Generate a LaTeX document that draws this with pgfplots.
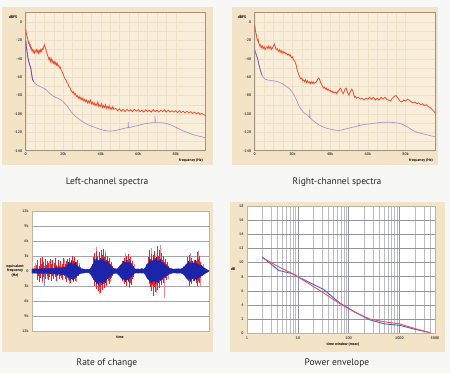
\documentclass[border=0pt]{standalone}
\usepackage{fontspec}
\setmainfont{PT Sans}
\usepackage{pgfplots}
\pgfplotsset{compat=1.18}
\definecolor{pagebg}{RGB}{247,247,245}
\definecolor{beige}{RGB}{243,228,200}
\definecolor{plotbg}{RGB}{248,238,218}
\definecolor{faintgrid}{RGB}{238,224,198}
\definecolor{framec}{RGB}{160,148,126}
\definecolor{specred}{RGB}{238,78,48}
\definecolor{speclav}{RGB}{172,148,202}
\definecolor{specpurp}{RGB}{105,75,190}
\definecolor{wavered}{RGB}{240,30,40}
\definecolor{wavepink}{RGB}{245,130,150}
\definecolor{waveblue}{RGB}{28,36,170}
\definecolor{lightblue}{RGB}{120,130,225}
\definecolor{gridc}{RGB}{165,165,175}
\definecolor{envred}{RGB}{232,80,95}
\definecolor{envblue}{RGB}{70,95,225}
\pgfplotsset{
  tinytick/.style={
    tick label style={font=\fontsize{3.8}{4}\selectfont\bfseries, text=black!75},
    /pgf/number format/assume math mode=true,
    major tick length=0pt, minor tick length=0pt,
    xtick pos=bottom, ytick pos=left,
  },
  specaxis/.style={
    anchor=south west, scale only axis,
    xmin=0, xmax=96, ymin=-140, ymax=10,
    xtick={0,20,40,60,80}, xticklabels={0,20k,40k,60k,80k},
    ytick={-140,-120,...,0},
    minor x tick num=3, minor y tick num=1,
    grid=both, grid style={faintgrid, line width=0.3pt},
    axis background/.style={fill=plotbg},
    axis line style={framec, line width=1.2pt},
    tinytick,
    xticklabel style={yshift=1pt},
  },
}
\newcommand{\lbl}{\fontsize{3.8}{4.2}\selectfont\bfseries}
\begin{document}
\begin{tikzpicture}[x=1pt,y=1pt]
\useasboundingbox (0,0) rectangle (450,373);
\fill[pagebg] (0,0) rectangle (450,373);
\fill[beige] (2,208) rectangle (213,366);
\fill[beige] (232,208) rectangle (438,366);
\fill[beige] (2,21) rectangle (213,171);
\fill[beige] (230,21) rectangle (445,171);

% ---------- Panel 1: Left-channel spectra ----------
\begin{axis}[specaxis, at={(25.7pt,222.3pt)}, width=180pt, height=138pt]
\addplot[speclav, line width=0.7pt] coordinates {
(0,-20) (0.3,-26) (0.6,-31) (1.0,-36) (1.4,-41) (2.0,-46) (2.7,-50) (3.2,-57) (3.6,-62) (4.2,-65)
(5,-67) (6,-68.5) (7,-69.5) (8,-70.5) (9,-71.5) (10,-72.5) (11,-74) (12,-76) (13,-78) (14,-79.5)
(15,-81) (16,-82) (17,-83) (18,-84) (19,-85) (20,-87) (21,-89) (22,-91) (23,-94) (24,-97)
(25,-99.5) (26,-101.5) (27,-103.5) (28,-105) (30,-108) (32,-110.5) (34,-112.5) (36,-114) (38,-115.5)
(40,-117) (42,-118) (44,-118.5) (46,-118.5) (48,-118) (50,-117) (52,-116) (54,-115) (54.6,-115)
(54.7,-109) (54.8,-115) (56,-114.5) (58,-113.5) (60,-112.5) (62,-111.5) (64,-110.5) (66,-110)
(68,-109.5) (68.9,-109.5) (69,-102) (69.1,-109.5) (70,-109.5) (72,-109.5) (74,-110) (76,-111)
(78,-112.5) (80,-114.5) (82,-116.5) (84,-118.5) (86,-120) (88,-121.5) (90,-123) (92,-124) (94,-125) (96,-126)
};
\addplot[specpurp, line width=0.8pt] coordinates {
(0,-20) (0.3,-26) (0.6,-31) (1.0,-36) (1.4,-41) (2.0,-46) (2.7,-50) (3.2,-57) (3.6,-62) (4.2,-65)
};
\addplot[specred, line width=0.8pt] coordinates {
(0,-8) (0.3,-12) (0.6,-15) (0.9,-17) (1.2,-20) (1.5,-23) (1.8,-22) (2.1,-26) (2.4,-25) (2.7,-29)
(3.0,-28) (3.3,-31) (3.6,-30) (4.0,-33) (4.4,-31) (4.8,-34) (5.2,-32) (5.6,-30) (6.0,-33) (6.4,-31)
(6.8,-34) (7.2,-31) (7.6,-33) (8.0,-30) (8.4,-32) (8.8,-29) (9.2,-30) (9.6,-27) (10.0,-25) (10.4,-28)
(10.8,-30) (11.2,-33) (11.6,-36) (12.0,-38) (12.4,-41) (12.8,-39) (13.2,-43) (13.6,-40) (14.0,-44)
(14.4,-42) (14.8,-45) (15.2,-43) (15.6,-46) (16.0,-44) (16.4,-47) (16.8,-45) (17.2,-48) (17.6,-47)
(18.0,-50) (18.4,-49) (18.8,-52) (19.2,-53) (19.6,-55) (20.0,-57) (20.5,-60) (21.0,-62) (21.5,-63)
(22.0,-66) (22.5,-67) (23.0,-70) (23.5,-71) (24.0,-74) (24.5,-75) (25.0,-77) (25.5,-76) (26.0,-79)
(26.5,-78) (27.0,-81) (27.5,-80) (28.0,-83) (28.5,-81) (29.0,-84) (29.5,-82) (30.0,-85) (30.5,-83)
(31.0,-86) (31.5,-84) (32.0,-87) (32.5,-85) (33.0,-88) (33.5,-86) (34.0,-88) (34.5,-85) (35.0,-89)
(35.5,-87) (36.0,-90) (36.5,-88) (37.0,-91) (37.5,-89) (38.0,-91) (38.5,-87) (39.0,-92) (39.5,-90)
(40.0,-92) (40.5,-89) (41.0,-93) (41.5,-91) (42.0,-93) (42.5,-90) (43.0,-94) (43.5,-92) (44.0,-94)
(44.5,-91) (45.0,-95) (45.5,-93) (46.0,-95) (46.5,-92) (47.0,-95) (48,-94) (49,-96.5) (50,-94.5)
(51,-97) (52,-95) (53,-97.5) (54,-95) (55,-97) (56,-95.5) (57,-97.5) (58,-95) (59,-97) (60,-95.5)
(61,-97.5) (62,-96) (63,-98) (64,-95.5) (65,-97.5) (66,-96) (67,-98) (68,-95.5) (69,-97.5) (70,-96)
(71,-98) (72,-96) (73,-97.5) (74,-95.5) (75,-98) (76,-96) (77,-98) (78,-96.5) (79,-98) (80,-96.5)
(81,-98.5) (82,-96.5) (83,-98.5) (84,-97) (85,-99) (86,-97) (87,-99) (88,-97.5) (89,-99.5) (90,-98)
(91,-100) (92,-98.5) (93,-100.5) (94,-99.5) (95,-101) (96,-102)
};
\end{axis}
\node[font=\lbl] at (13,356) {dBFS};
\node[font=\lbl, fill=plotbg, inner sep=0.6pt] at (191,212) {frequency (Hz)};

% ---------- Panel 2: Right-channel spectra ----------
\begin{axis}[specaxis, at={(254.7pt,222.3pt)}, width=181pt, height=138pt]
\addplot[speclav, line width=0.7pt] coordinates {
(0,-30) (0.4,-33) (0.9,-36) (1.4,-39) (1.8,-42) (2.3,-47) (2.7,-50) (3.2,-54) (3.9,-58) (4.5,-60)
(5.3,-62) (6.5,-63) (8,-63.5) (9,-64) (10,-64) (11,-64.5) (12,-65) (13,-65.5) (14,-66.5) (15,-67.5)
(16,-69) (17,-70.5) (18,-72) (19,-74) (20,-76.5) (21,-80) (22,-84) (23,-89) (24,-93) (25,-96)
(26,-98.5) (27,-100) (28,-101.5) (29.1,-104) (29.2,-95) (29.3,-104) (30,-105.5) (32,-109) (34,-112)
(36,-114) (38,-115.5) (40,-116.5) (42,-117.5) (44,-118) (46,-117.5) (48,-116.5) (50,-115.5)
(52,-114.5) (54,-113.5) (55.2,-113) (55.3,-110) (55.4,-113) (56,-112.5) (58,-111.5) (60,-111)
(62,-110.5) (64,-110) (66,-109.5) (68,-109) (70,-109) (72,-109) (74,-109.5) (76,-110) (78,-111)
(80,-113) (82,-115.5) (84,-118) (86,-120) (88,-121) (90,-122) (92,-123) (94,-124) (96,-125)
};
\addplot[specpurp!70!speclav, line width=0.7pt] coordinates {
(0,-30) (0.4,-33) (0.9,-36) (1.4,-39) (1.8,-42) (2.3,-47) (2.7,-50) (3.2,-54) (3.9,-58)
};
\addplot[specred, line width=0.8pt] coordinates {
(0,-3) (0.3,-8) (0.6,-12) (0.9,-14) (1.2,-18) (1.5,-20) (1.8,-19) (2.1,-23) (2.4,-24) (2.7,-26)
(3.0,-25) (3.5,-28) (4.0,-26) (4.5,-29) (5.0,-27) (5.5,-30) (6.0,-28) (6.5,-27) (7.0,-29) (7.5,-26)
(8.0,-29) (8.5,-27) (9.0,-30) (9.5,-28) (10.0,-26) (10.5,-24) (11.0,-28) (11.5,-30) (12.0,-29)
(12.5,-32) (13.0,-30) (13.5,-33) (14.0,-31) (14.5,-34) (15.0,-32) (15.5,-34) (16.0,-33) (16.5,-35)
(17.0,-34) (17.5,-36) (18.0,-35) (18.5,-37) (19.0,-36) (19.5,-39) (20.0,-38) (20.5,-41) (21.0,-42)
(21.5,-44) (22.0,-47) (22.5,-52) (23.0,-55) (23.5,-58) (24.0,-60) (24.5,-62) (25.0,-61) (25.5,-64)
(26.0,-63) (26.5,-65) (27.0,-63) (27.5,-66) (28.0,-64) (28.5,-66) (29.0,-65) (29.5,-67) (30.0,-65)
(30.5,-67) (31.0,-65) (31.5,-67) (32.0,-66) (32.5,-66) (33.0,-64) (33.5,-62) (34.0,-61) (34.5,-63)
(35.0,-66) (35.5,-68) (36.0,-70) (36.5,-72) (37.0,-71) (37.5,-73) (38.0,-72) (38.5,-74) (39.0,-73)
(39.5,-75) (40.0,-74) (40.5,-76) (41.0,-75) (41.5,-77) (42.0,-76) (42.5,-77) (43.0,-76) (43.5,-78)
(44.0,-76) (44.5,-75) (45.0,-73) (45.5,-72) (46.0,-74) (46.5,-77) (47.0,-78) (47.5,-75) (48.0,-73)
(48.5,-72) (49.0,-75) (49.5,-78) (50.0,-80) (50.5,-77) (51.0,-75) (51.5,-73) (52.0,-75) (52.5,-79)
(53.0,-82) (53.5,-81) (54.0,-83) (55,-82) (56,-84) (57,-83) (58,-85) (59,-83) (60,-84) (61,-82)
(62,-84) (63,-82) (64,-85) (65,-83) (66,-85) (67,-82) (68,-84) (69,-82) (70,-84) (71,-85) (72,-86)
(73,-83) (74,-81) (75,-80) (76,-83) (77,-86) (78,-87) (79,-85) (80,-86) (81,-84) (82,-85) (83,-87)
(84,-88) (85,-87) (86,-89) (87,-88) (88,-90) (89,-89) (90,-91) (91,-90) (92,-92) (93,-93) (94,-95)
(95,-97) (96,-100)
};
\end{axis}
\node[font=\lbl] at (242,356) {dBFS};
\node[font=\lbl, fill=plotbg, inner sep=0.6pt] at (421,212) {frequency (Hz)};

% ---------- Panel 3: Rate of change ----------
\begin{axis}[anchor=south west, scale only axis, at={(32pt,42pt)}, width=177pt, height=120pt,
  xmin=0, xmax=100, ymin=-12, ymax=12, xtick=\empty,
  ytick={-12,-9,...,12}, yticklabels={12k,9k,6k,3k,0,3k,6k,9k,12k},
  ymajorgrids, grid style={gridc, line width=0.7pt},
  axis line style={framec!70, line width=0.8pt},
  axis background/.style={fill=white},
  tinytick, clip=true]
% pink (light) spikes
\addplot[wavepink, ycomb, line width=0.7pt] coordinates {
(2.0,1.6) (5.9,-2.4) (9.9,2.1) (13.6,-2.0) (18.3,2.4) (21.0,-2.5) (36.2,4.8) (38.0,-4.6) (41.6,4.0)
(53.0,3.7) (55.0,-3.4) (67.2,4.6) (70.0,-4.4) (72.3,5.3) (74.6,-5.3) (89.5,3.6) (94.0,4.0) (95.2,-3.1)
(1.2,1.0) (8.4,-1.6) (15.9,1.8) (24.8,-2.1) (26.9,1.6) (44.0,-2.2) (57.9,1.5) (76.9,-1.6) (96.7,1.4)
};
\addplot[wavered, ycomb, line width=0.8pt] coordinates {
(2.5,1.2) (3.2,2.2) (4.0,1.0) (4.6,2.6) (5.3,1.5) (6.0,2.8) (6.7,1.8) (7.4,2.4) (8.1,1.2) (8.8,2.0)
(9.5,1.6) (10.3,2.5) (11.0,1.4) (11.8,2.2) (12.5,1.7) (13.3,2.6) (14.0,1.3) (14.8,2.3) (15.5,1.1)
(16.3,2.0) (17.0,1.5) (17.8,2.6) (18.6,1.4) (19.3,2.1) (20.0,2.4) (20.7,1.6) (21.4,2.7) (22.1,2.2)
(22.8,3.0) (23.5,2.0) (24.2,2.8) (25.0,1.8) (25.7,2.3) (26.5,1.2) (27.3,0.8)
(34.2,1.5) (34.8,2.8) (35.4,3.6) (36.0,2.5) (36.6,4.0) (37.2,3.0) (37.8,3.8) (38.4,2.4) (39.0,4.3)
(39.6,3.2) (40.2,4.5) (40.8,2.8) (41.4,3.5) (42.0,2.2) (42.6,3.0) (43.2,2.0) (43.8,2.6) (44.4,1.5)
(45.0,1.8) (45.6,1.0)
(50.3,1.2) (50.9,2.0) (51.5,1.5) (52.1,2.6) (52.7,1.8) (53.3,3.0) (53.9,2.2) (54.5,3.5) (55.1,2.4)
(55.7,2.9) (56.3,1.6) (56.9,2.0) (57.5,1.0)
(65.2,1.5) (65.8,2.8) (66.4,4.2) (67.0,2.4) (67.6,3.5) (68.2,2.0) (68.8,3.2) (69.4,4.0) (70.0,2.6)
(70.6,5.0) (71.2,3.0) (71.8,4.2) (72.4,2.5) (73.0,3.6) (73.6,2.2) (74.2,3.0) (74.8,1.8) (75.4,2.4)
(76.0,1.5) (76.6,1.8) (77.2,1.0)
(87.3,1.5) (87.9,2.8) (88.5,1.8) (89.1,3.2) (89.7,2.0) (90.3,2.6) (90.9,1.5) (91.5,2.2) (92.1,1.2)
(92.7,2.0) (93.3,3.8) (93.9,2.4) (94.5,3.0) (95.1,1.8) (95.7,1.2) (96.3,0.8)
};
\addplot[wavered, ycomb, line width=0.8pt] coordinates {
(2.8,-1.8) (3.6,-1.0) (4.3,-2.2) (5.0,-1.3) (5.7,-2.0) (6.4,-1.1) (7.1,-2.1) (7.8,-1.5) (8.5,-1.0)
(9.2,-1.8) (10.0,-1.2) (10.7,-2.0) (11.4,-1.0) (12.2,-1.6) (13.0,-1.1) (13.7,-1.9) (14.4,-1.0)
(15.2,-1.5) (16.0,-0.9) (16.7,-1.4) (17.4,-1.8) (18.2,-1.0) (19.0,-1.6) (19.7,-2.2) (20.4,-1.4)
(21.1,-2.0) (21.8,-2.3) (22.5,-1.6) (23.2,-2.2) (23.9,-1.5) (24.6,-2.0) (25.3,-1.3) (26.1,-1.0)
(34.5,-1.8) (35.1,-3.0) (35.7,-2.2) (36.3,-3.5) (36.9,-2.6) (37.5,-4.0) (38.1,-3.2) (38.7,-4.3)
(39.3,-2.8) (39.9,-3.8) (40.5,-2.5) (41.1,-3.4) (41.7,-2.2) (42.3,-3.0) (42.9,-2.0) (43.5,-2.5)
(44.1,-1.6) (44.7,-1.3) (45.3,-1.0)
(50.6,-1.2) (51.2,-2.0) (51.8,-1.4) (52.4,-2.5) (53.0,-1.8) (53.6,-3.0) (54.2,-2.2) (54.8,-3.2)
(55.4,-2.4) (56.0,-2.8) (56.6,-1.5) (57.2,-1.2)
(65.5,-1.5) (66.1,-2.5) (66.7,-3.2) (67.3,-4.0) (67.9,-2.8) (68.5,-5.0) (69.1,-3.2) (69.7,-4.2)
(70.3,-2.6) (70.9,-3.8) (71.5,-2.4) (72.1,-3.4) (72.7,-2.0) (73.3,-2.8) (73.9,-1.8) (74.5,-2.4)
(75.1,-1.4) (75.7,-1.8) (76.3,-1.0)
(87.6,-1.2) (88.2,-2.0) (88.8,-3.0) (89.4,-2.2) (90.0,-2.6) (90.6,-1.5) (91.2,-2.0) (91.8,-1.2)
(92.4,-1.6) (93.0,-2.4) (93.6,-3.0) (94.2,-2.0) (94.8,-2.4) (95.4,-1.3) (96.0,-1.0)
};
% light blue spikes
\addplot[lightblue, ycomb, line width=0.8pt] coordinates {
(6.8,-2.9) (6.8,1.0) (20.3,-1.7) (20.3,1.2) (64.5,1.5) (64.5,-1.2) (85.8,1.0)
};
% blue spikes
\addplot[waveblue, ycomb, line width=0.7pt] coordinates {
(20.5,1.8) (22.5,2.0) (24.5,1.9) (35.5,2.4) (36.5,2.6) (38.5,2.7) (40.5,2.6) (42.5,2.3) (51.5,2.0)
(53.5,2.3) (55.5,2.1) (66.5,2.5) (68.5,2.7) (70.5,2.9) (72.5,2.5) (88.5,2.1) (90.5,2.0) (92.5,2.2)
(21.5,-1.8) (23.5,-2.0) (36.5,-2.6) (37.5,-2.8) (39.5,-2.5) (41.5,-2.3) (52.5,-2.1) (54.5,-2.0)
(67.5,-2.4) (69.5,-2.5) (71.5,-2.3) (89.5,-1.9) (91.5,-2.0)
};
% blue envelope
\addplot[waveblue, fill=waveblue, line width=0.4pt] coordinates {
(0,0.4) (2,0.45) (4,0.4) (6,0.5) (8,0.45) (10,0.55) (12,0.5) (14,0.7) (16,0.6) (18,0.8) (19,0.7)
(20,1.2) (21,1.4) (22,1.7) (23,1.3) (24,1.6) (25,1.2) (26,0.9) (27,0.6) (28,0.45) (30,0.35) (32,0.3)
(33,0.45) (34,1.1) (35,1.6) (36,2.0) (37,2.2) (38,2.0) (39,2.3) (40,2.2) (41,2.0) (42,1.8) (43,1.6)
(44,1.3) (45,0.8) (46,0.55) (47,0.45) (48,0.4) (49,0.7) (50,1.2) (51,1.5) (52,1.7) (53,1.8) (54,1.6)
(55,1.7) (56,1.3) (57,0.9) (58,0.45) (59,0.35) (60,0.45) (61,0.35) (62,0.5) (63,0.35) (64,0.6)
(65,1.3) (66,1.7) (67,2.0) (68,2.1) (69,2.0) (70,2.3) (71,2.0) (72,2.1) (73,1.8) (74,1.6) (75,1.3)
(76,1.0) (77,0.7) (78,0.55) (79,0.45) (80,0.35) (82,0.45) (84,0.4) (85,0.55) (86,0.8) (87,1.3)
(88,1.6) (89,1.7) (90,1.5) (91,1.6) (92,1.7) (93,1.5) (94,1.3) (95,1.2) (96,1.0) (97,0.7) (98,0.45)
(99,0.25) (100,0)
} \closedcycle;
\addplot[waveblue, fill=waveblue, line width=0.4pt] coordinates {
(0,-0.4) (2,-0.45) (4,-0.45) (6,-0.5) (8,-0.45) (10,-0.55) (12,-0.55) (14,-0.7) (16,-0.6) (18,-0.8)
(19,-0.7) (20,-1.2) (21,-1.5) (22,-1.4) (23,-1.7) (24,-1.3) (25,-1.2) (26,-0.8) (27,-0.55) (28,-0.45)
(30,-0.35) (32,-0.3) (33,-0.55) (34,-1.2) (35,-1.7) (36,-2.1) (37,-2.4) (38,-2.2) (39,-2.3) (40,-2.1)
(41,-2.2) (42,-1.8) (43,-1.4) (44,-1.2) (45,-0.8) (46,-0.55) (47,-0.45) (48,-0.45) (49,-0.8)
(50,-1.2) (51,-1.6) (52,-1.7) (53,-1.9) (54,-1.7) (55,-1.6) (56,-1.2) (57,-0.8) (58,-0.45)
(59,-0.35) (60,-0.45) (61,-0.35) (62,-0.45) (63,-0.35) (64,-0.7) (65,-1.4) (66,-1.8) (67,-2.1)
(68,-2.2) (69,-2.0) (70,-2.1) (71,-2.1) (72,-1.8) (73,-1.7) (74,-1.4) (75,-1.2) (76,-0.9) (77,-0.7)
(78,-0.55) (79,-0.45) (80,-0.35) (82,-0.45) (84,-0.4) (85,-0.55) (86,-0.8) (87,-1.3) (88,-1.7)
(89,-1.6) (90,-1.7) (91,-1.4) (92,-1.6) (93,-1.7) (94,-1.3) (95,-1.2) (96,-0.9) (97,-0.7) (98,-0.45)
(99,-0.25) (100,0)
} \closedcycle;
\end{axis}
\node[font=\lbl, align=center] at (15,102) {equivalent\\frequency\\(Hz)};
\node[font=\lbl] at (120,36) {time};

% ---------- Panel 4: Power envelope ----------
\begin{axis}[anchor=south west, scale only axis, at={(247pt,40pt)}, width=188pt, height=126.7pt,
  xmode=log, xmin=1, xmax=5000, ymin=0, ymax=18,
  xtick={1,10,100,1000,5000}, xticklabels={1,10,100,1000,5000},
  minor xtick={2,3,4,5,6,7,8,9,20,30,40,50,60,70,80,90,200,300,400,500,600,700,800,900,2000,3000,4000},
  ytick={0,2,...,18},
  grid=both, major grid style={gridc!90!black, line width=0.5pt},
  minor grid style={gridc!75, line width=0.35pt},
  axis line style={framec!70, line width=0.8pt},
  axis background/.style={fill=white},
  tinytick, log basis x=10]
\addplot[envblue, line width=0.9pt] coordinates {
(2,10.8) (4.2,8.9) (8,8.4) (10,8.0) (32,6.2) (66,4.3) (130,3.0) (254,1.9) (500,1.3) (1000,1.1) (2090,0.5) (4000,0.05)
};
\addplot[envred, line width=0.9pt] coordinates {
(2,10.7) (4.2,9.4) (8,8.4) (10,8.0) (32,5.7) (66,4.2) (130,3.0) (254,2.0) (500,1.6) (1000,1.3) (2090,0.6) (4000,0.05)
};
\end{axis}
\node[font=\lbl] at (233,104) {dB};
\node[font=\lbl] at (343,28) {time window (msec)};

% ---------- captions ----------
\node[font=\fontsize{9.5}{11}\selectfont, text=black!85] at (107,191) {Left-channel spectra};
\node[font=\fontsize{9.5}{11}\selectfont, text=black!85] at (337,191) {Right-channel spectra};
\node[font=\fontsize{9.5}{11}\selectfont, text=black!85] at (107,10) {Rate of change};
\node[font=\fontsize{9.5}{11}\selectfont, text=black!85] at (337,10) {Power envelope};
\end{tikzpicture}
\end{document}
